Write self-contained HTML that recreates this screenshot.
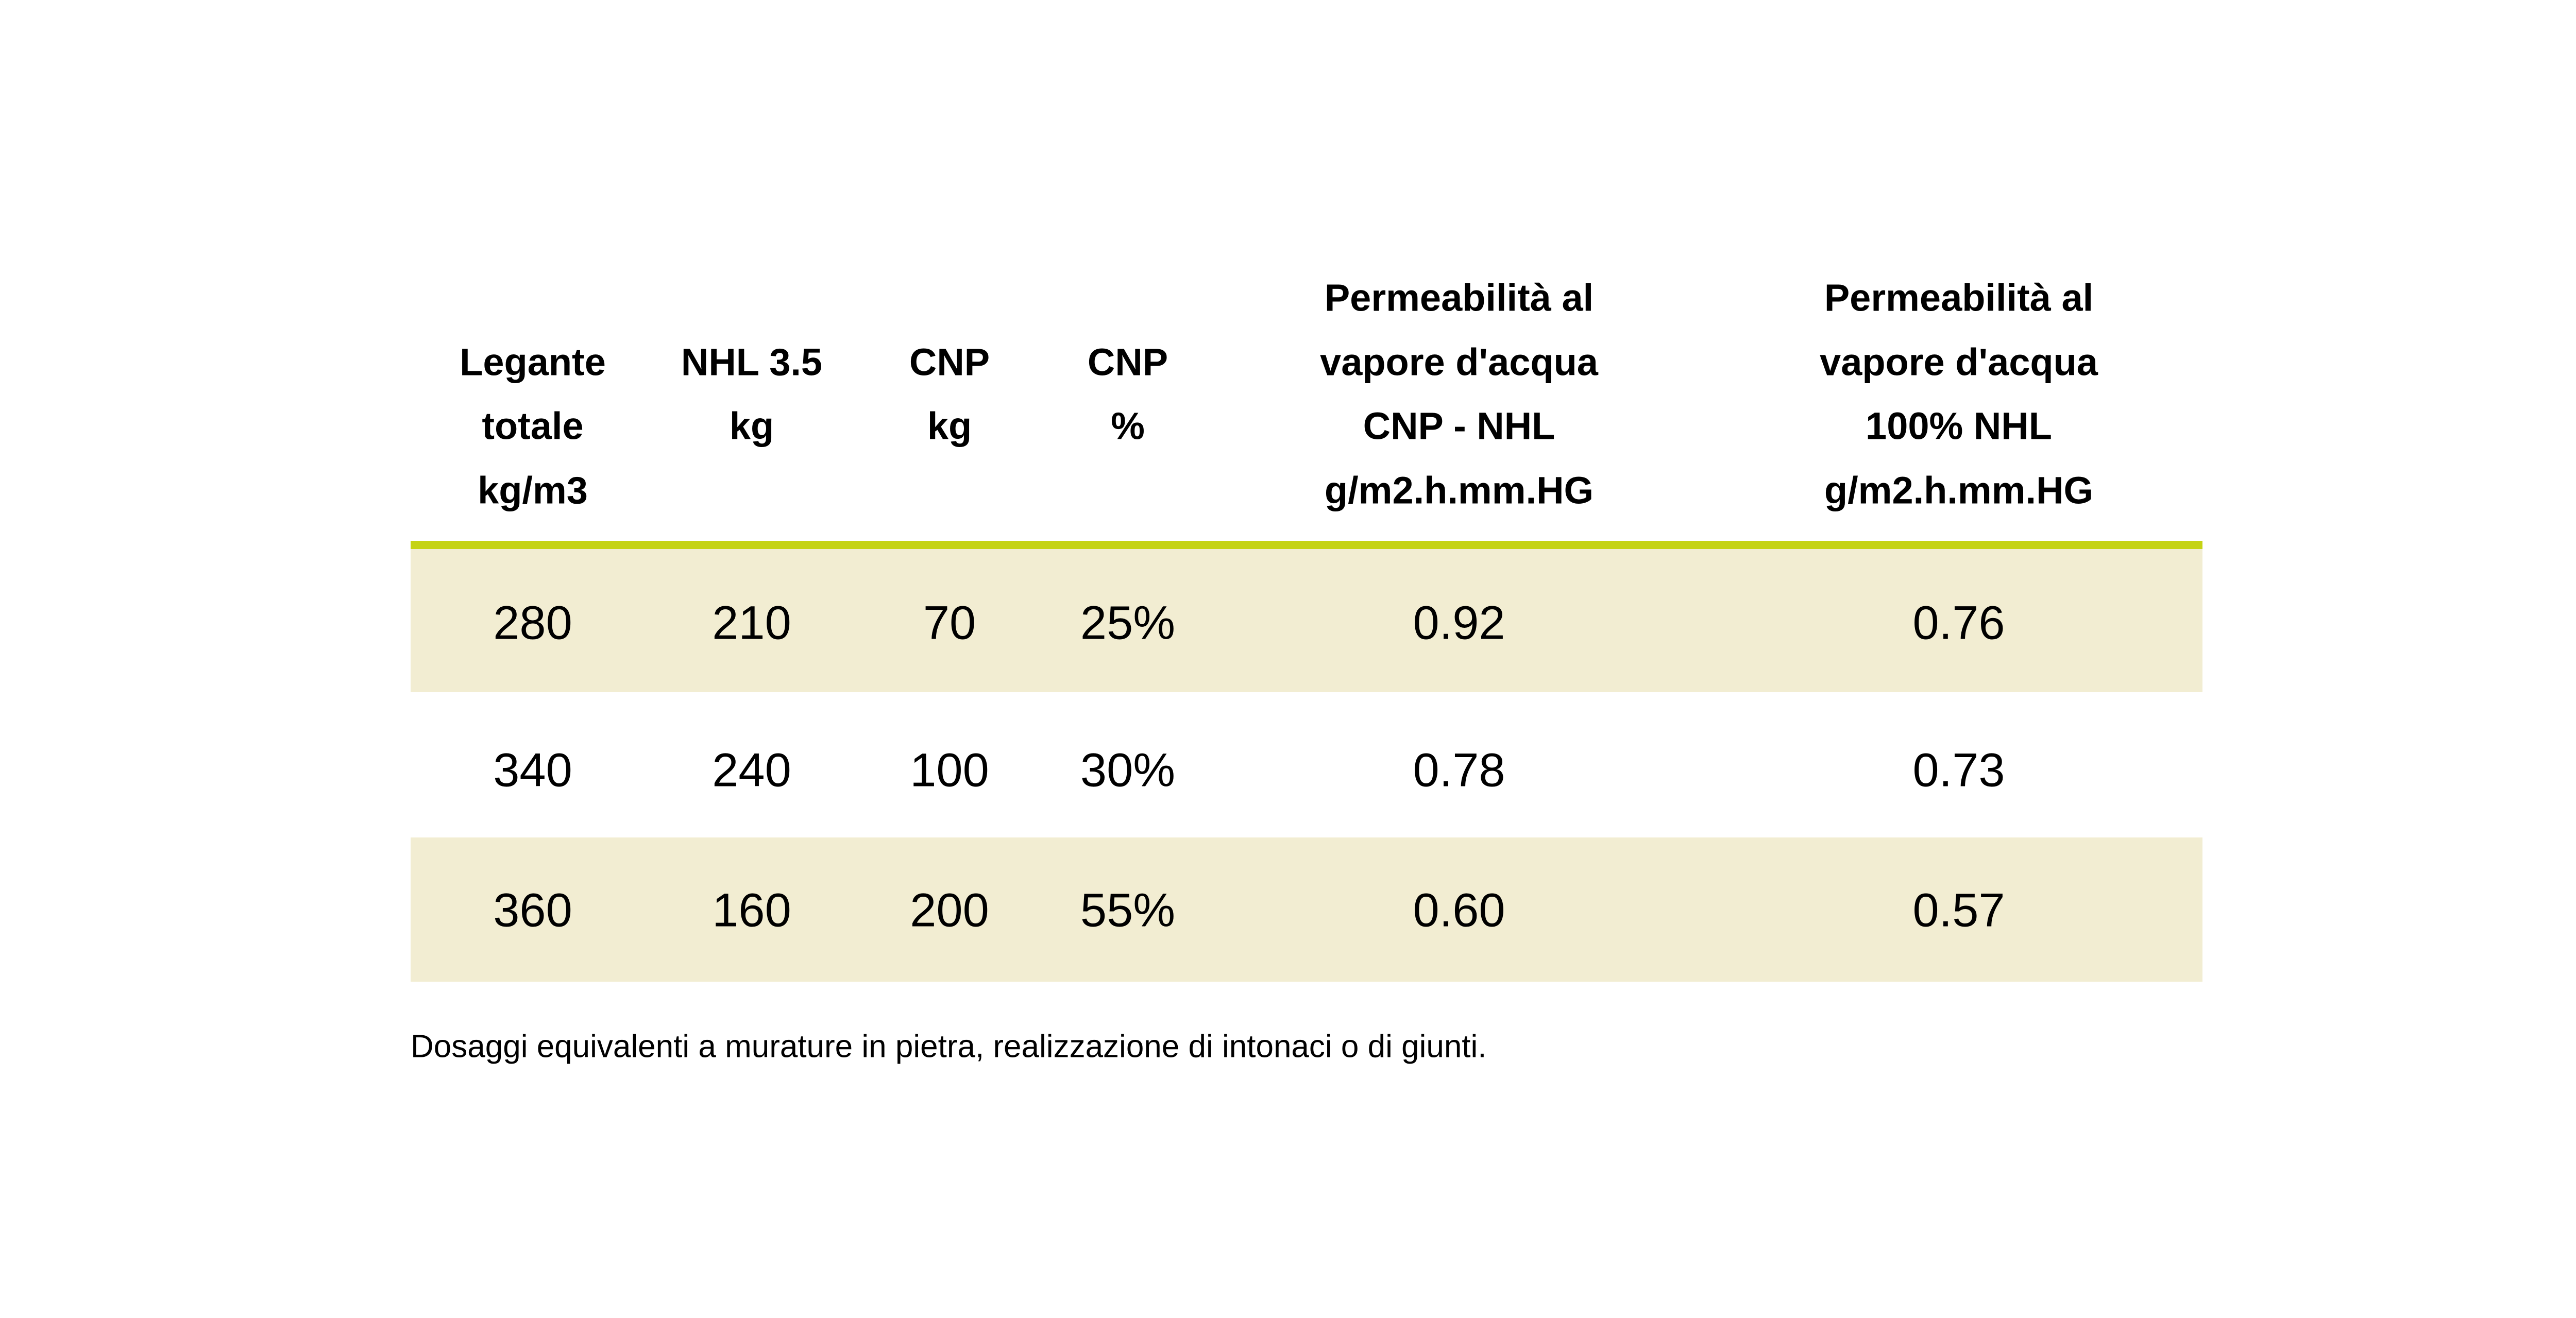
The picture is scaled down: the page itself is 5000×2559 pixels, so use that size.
<!DOCTYPE html>
<html><head><meta charset="utf-8"><style>
html,body{margin:0;padding:0;background:#fff}
#page{position:relative;width:5000px;height:2559px;overflow:hidden;font-family:"Liberation Sans","DejaVu Sans",sans-serif;color:#000}
.t{position:absolute;transform:translate(-50%,-50%);white-space:nowrap;text-align:center}
.h{font-weight:bold;font-size:74px}
.v{font-size:92px}
.band{position:absolute;left:797px;width:3478px}
</style></head><body>
<div id="page">
<div class="band" style="top:1050px;height:16px;background:#c5d314"></div>
<div class="band" style="top:1066px;height:278px;background:#f2edd2"></div>
<div class="band" style="top:1626px;height:280px;background:#f2edd2"></div>
<div class="t" style="left:797px;top:2032px;transform:translateY(-50%);font-size:62px">Dosaggi equivalenti a murature in pietra, realizzazione di intonaci o di giunti.</div>
</div>
<script>
const headers=[["Legante","totale","kg/m3"],["NHL 3.5","kg"],["CNP","kg"],["CNP","%"],["Permeabilità al","vapore d'acqua","CNP - NHL","g/m2.h.mm.HG"],["Permeabilità al","vapore d'acqua","100% NHL","g/m2.h.mm.HG"]];
const headerStart=[1,1,1,1,0,0];
const colX=[1034,1459,1843,2189,2832,3802];
const rowY=[1210,1496,1768];
const legante=["280","340","360"];
const nhl=["210","240","160"];
const cnpKg=["70","100","200"];
const cnpPct=["25%","30%","55%"];
const permMix=["0.92","0.78","0.60"];
const permNhl=["0.76","0.73","0.57"];
const cols=[legante,nhl,cnpKg,cnpPct,permMix,permNhl];
const page=document.getElementById('page');
const lineY=[578,703,827,952];
headers.forEach((lines,c)=>{lines.forEach((txt,i)=>{
 const d=document.createElement('div');d.className='t h';
 
 
 d.style.left=colX[c]+'px';d.style.top=lineY[headerStart[c]+i]+'px';d.textContent=txt;page.appendChild(d);});});
cols.forEach((arr,c)=>{arr.forEach((v,r)=>{
 const d=document.createElement('div');d.className='t v';
 
 
 d.style.left=colX[c]+'px';d.style.top=rowY[r]+'px';d.textContent=v;page.appendChild(d);});});
</script>
</body></html>
